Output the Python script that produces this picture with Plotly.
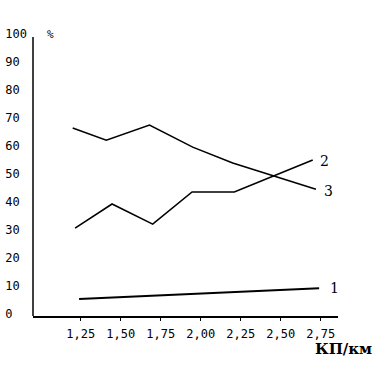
import plotly.graph_objects as go

# Data
x1 = [1.24, 2.74]
y1 = [5.4, 9.2]

x2 = [1.215, 1.446, 1.70, 1.946, 2.21, 2.70]
y2 = [30.7, 39.3, 32.1, 43.6, 43.6, 55.0]

x3 = [1.20, 1.41, 1.68, 1.95, 2.20, 2.72]
y3 = [66.4, 62.1, 67.5, 59.6, 53.9, 44.6]

x_ticks = [1.25, 1.50, 1.75, 2.00, 2.25, 2.50, 2.75]
x_ticktext = ["1,25", "1,50", "1,75", "2,00", "2,25", "2,50", "2,75"]
y_ticks = [0, 10, 20, 30, 40, 50, 60, 70, 80, 90, 100]
y_ticktext = [str(v) + "\u00a0" * (3 - len(str(v))) for v in y_ticks]

series_labels = ["1", "2", "3"]

mono = "DejaVu Sans Mono"
serif = "DejaVu Serif"

fig = go.Figure()
fig.add_trace(go.Scatter(x=x1, y=y1, mode="lines", line=dict(color="black", width=2)))
fig.add_trace(go.Scatter(x=x2, y=y2, mode="lines", line=dict(color="black", width=1.6)))
fig.add_trace(go.Scatter(x=x3, y=y3, mode="lines", line=dict(color="black", width=1.6)))

# curve labels near line ends
for xs, ys, lab, dx, dy in [(x1, y1, series_labels[0], 9, 0),
                            (x2, y2, series_labels[1], 5, -1),
                            (x3, y3, series_labels[2], 6, -2)]:
    fig.add_annotation(x=xs[-1], y=ys[-1], text=lab, showarrow=False,
                       xanchor="left", yanchor="middle", xshift=dx, yshift=dy,
                       font=dict(family=serif, size=14, color="black"))

fig.add_annotation(xref="paper", yref="paper", x=0.04, y=1.0, text="%",
                   showarrow=False, xanchor="left", yanchor="middle",
                   font=dict(family=mono, size=11, color="black"))
fig.add_annotation(xref="paper", yref="paper", x=1.118, y=-0.118, text="<b>КП/км</b>",
                   showarrow=False, xanchor="right", yanchor="middle",
                   font=dict(family=serif, size=15, color="black"))

# y axis line
fig.add_shape(type="line", xref="paper", yref="y", x0=0, x1=0, y0=-0.7, y1=98.9,
              line=dict(color="black", width=1.5))

fig.update_layout(
    width=376, height=376,
    margin=dict(l=33, r=38, t=34, b=60, autoexpand=False),
    paper_bgcolor="white", plot_bgcolor="white",
    showlegend=False,
    xaxis=dict(range=[0.952, 2.858], tickvals=x_ticks, ticktext=x_ticktext,
               automargin=False,
               showgrid=False, zeroline=False, showline=True, linecolor="black",
               linewidth=1.5, ticks="outside", ticklen=3, tickcolor="black",
               ticklabelstandoff=3,
               tickfont=dict(family=mono, size=12, color="black")),
    yaxis=dict(range=[-0.7, 100], tickvals=y_ticks, ticktext=y_ticktext,
               automargin=False,
               showgrid=False, zeroline=False, showline=False, ticks="",
               ticklabelstandoff=5,
               tickfont=dict(family=mono, size=12, color="black")),
)

fig.write_html("out.html", config={"displayModeBar": False},
               post_script="document.body.style.margin='0';document.body.style.overflow='hidden';")
